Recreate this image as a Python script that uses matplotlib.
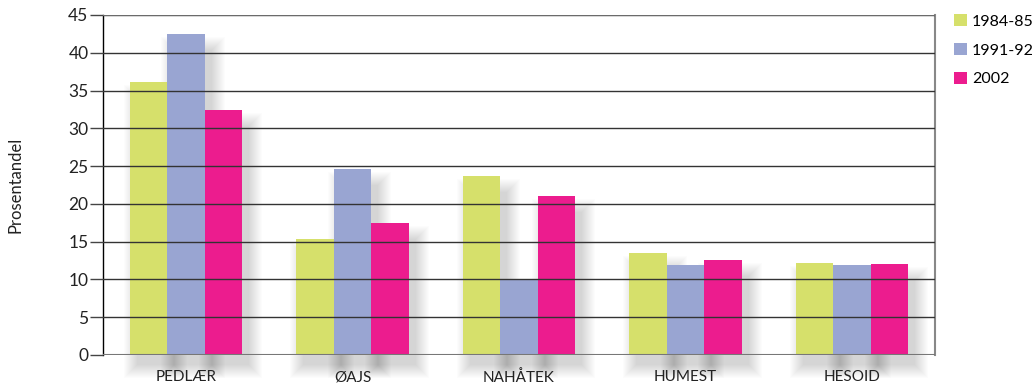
import matplotlib.pyplot as plt
import numpy as np
import matplotlib.patches as mpatches

categories = ["PEDLÆR", "ØAJS", "NAHÅTEK", "HUMEST", "HESOID"]
series = ["1984-85", "1991-92", "2002"]
v1984 = [36.1, 15.4, 23.7, 13.5, 12.2]
v1991 = [42.5, 24.6, 9.9, 11.9, 11.9]
v2002 = [32.4, 17.5, 21.0, 12.6, 12.1]
yticks = [0, 5, 10, 15, 20, 25, 30, 35, 40, 45]

colors = ["#d6e06b", "#99a5d2", "#ec1c8e"]
plt.rcParams['font.family'] = ['Lato', 'DejaVu Sans']

fig = plt.figure(figsize=[10.32, 3.87], dpi=100)
ax = fig.add_axes([0.0998, 0.0827, 0.8062, 0.8786])

x = np.arange(len(categories))
w = 0.225
offsets = [-w, 0, w]
px = 1.0 / 166.4   # one pixel in x data units
py = 45.0 / 340    # one pixel in y data units

# blurred drop shadow behind each bar
for vals, off in zip([v1984, v1991, v2002], offsets):
	for i in range(len(categories)):
		left = x[i] + off - w / 2 + 7 * px
		for k in range(14):
			g = k * 1.0
			sh = mpatches.Rectangle((left - g * px, -10 * py - g * py), w + 2 * g * px,
				vals[i] + 4 * py + 2 * g * py - 10 * py, fc="black", ec="none", alpha=0.011,
				zorder=1, clip_on=False)
			ax.add_patch(sh)

for vals, off, c, name in zip([v1984, v1991, v2002], offsets, colors, series):
	ax.bar(x + off, vals, width=w, color=c, label=name, zorder=2)

ax.set_xlim(-0.5, 4.5)
ax.set_ylim(0, 45)
ax.set_yticks(yticks)
ax.set_xticks(x)
ax.set_xticklabels(categories, fontsize=11, color="#222222")
ax.tick_params(axis="x", length=0, pad=11)
ax.tick_params(axis="y", length=9.5, width=1.0, color="#444444", pad=1, labelsize=12.5, labelcolor="#222222")

ax.yaxis.grid(True, color="#333333", lw=1.0, zorder=3)
ax.set_axisbelow(False)

for s in ["top", "bottom"]:
	ax.spines[s].set_visible(False)
ax.spines["left"].set_color("black")
ax.spines["left"].set_linewidth(1.0)
ax.spines["right"].set_color("#888888")
ax.spines["right"].set_linewidth(1.5)
ax.axhline(0, color="#777777", lw=1.5, zorder=4)
ax.axhline(45, color="#777777", lw=1.2, zorder=4)

ax.set_ylabel("Prosentandel", fontsize=12, color="#222222", labelpad=32)

leg = ax.legend(loc="upper left", bbox_to_anchor=(954 / 1032, 1 - 14 / 387),
	bbox_transform=fig.transFigure, frameon=False, fontsize=11.5,
	borderpad=0, borderaxespad=0, handlelength=0.82, handleheight=0.82,
	handletextpad=0.3, labelspacing=0.88)

plt.savefig("out.png")
